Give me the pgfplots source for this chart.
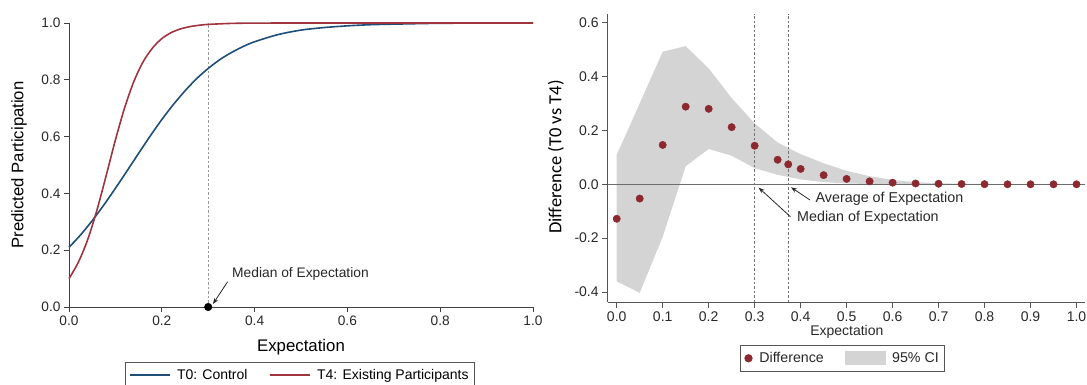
\documentclass[border=0pt]{standalone}
\usepackage{fontspec}
\setmainfont{Liberation Sans}
\newfontfamily\carlito{Carlito}
\usepackage{pgfplots}
\pgfplotsset{compat=1.18}
\usetikzlibrary{arrows.meta}
\definecolor{stblue}{RGB}{31,78,121}
\definecolor{stred}{RGB}{158,52,62}
\definecolor{dotred}{RGB}{140,40,48}
\definecolor{bandgray}{RGB}{212,212,212}
\definecolor{axgray}{RGB}{85,85,85}
\definecolor{txtgray}{RGB}{40,40,40}

\begin{document}
\begin{tikzpicture}
\useasboundingbox (0pt,0pt) rectangle (1087pt,-385pt);
% ---------------- left panel ----------------
\begin{axis}[
  at={(69pt,-307pt)}, anchor=south west,
  scale only axis, width=464pt, height=284pt,
  xmin=0, xmax=1, ymin=0, ymax=1, clip=false,
  axis lines*=left, axis line style={-, black!75, line width=0.9pt},
  tick align=outside, major tick length=5pt,
  tick style={black!75, line width=0.9pt},
  xtick={0,0.2,0.4,0.6,0.8,1}, ytick={0,0.2,0.4,0.6,0.8,1},
  xticklabel={\pgfmathprintnumber[fixed,fixed zerofill,precision=1,assume math mode=true]{\tick}},
  yticklabel={\pgfmathprintnumber[fixed,fixed zerofill,precision=1,assume math mode=true]{\tick}},
  ticklabel style={font=\fontsize{13.7}{15}\selectfont, text=txtgray},
  xlabel={Expectation},
  xlabel style={at={(axis description cs:0.5,-0.1408)}, anchor=center, font=\fontsize{16.8}{18}\selectfont},
  ylabel={Predicted Participation},
  ylabel style={at={(axis description cs:-0.1078,0.5)}, anchor=center, font=\fontsize{16.7}{18}\selectfont},
  legend columns=2,
  legend style={at={(axis description cs:0.1207,-0.1937)}, anchor=north west,
    draw=axgray, line width=0.8pt, inner xsep=4pt, inner ysep=5pt,
    font=\fontsize{14}{16}\selectfont, nodes={inner sep=2pt},
    /tikz/every odd column/.append style={column sep=4pt},
    /tikz/every even column/.append style={column sep=20pt}},
  legend image code/.code={\draw[#1] (0pt,0pt) -- (40pt,0pt);},
]
\addplot[forget plot, gray!80, line width=0.9pt, dash pattern=on 2.5pt off 2pt] coordinates {(0.3,0)(0.3,1)};
\addplot[stblue, line width=1.6pt, smooth] coordinates {
(0,0.210)(0.025,0.254)(0.05,0.304)(0.075,0.359)(0.1,0.418)(0.125,0.479)(0.15,0.541)
(0.175,0.602)(0.2,0.660)(0.225,0.713)(0.25,0.761)(0.275,0.804)(0.3,0.840)(0.325,0.871)
(0.35,0.896)(0.375,0.917)(0.4,0.934)(0.45,0.959)(0.5,0.975)(0.55,0.984)(0.6,0.990)
(0.65,0.994)(0.7,0.996)(0.8,0.999)(0.9,0.9995)(1.0,0.9998)};
\addlegendentry{T0: Control}
\addplot[stred, line width=1.6pt, smooth] coordinates {
(0,0.100)(0.02,0.157)(0.04,0.236)(0.06,0.340)(0.08,0.462)(0.1,0.588)(0.12,0.702)
(0.14,0.795)(0.16,0.864)(0.18,0.912)(0.2,0.945)(0.22,0.966)(0.24,0.979)(0.26,0.987)
(0.28,0.992)(0.3,0.995)(0.35,0.9986)(0.4,0.9996)(0.5,1.0)(0.7,1.0)(1.0,1.0)};
\addlegendentry{T4: Existing Participants}
\addplot[forget plot, only marks, mark=*, mark size=3.8pt, black] coordinates {(0.3,0)};
\end{axis}
% ---------------- right panel ----------------
\begin{axis}[
  at={(607.7pt,-302.3pt)}, anchor=south west,
  scale only axis, width=477.3pt, height=288.3pt,
  xmin=-0.0196, xmax=1.0185, ymin=-0.438, ymax=0.632,
  axis lines*=left, axis line style={-, axgray, line width=1pt},
  tick align=outside, major tick length=5.5pt,
  tick style={axgray, line width=1pt},
  xtick={0,0.1,0.2,0.3,0.4,0.5,0.6,0.7,0.8,0.9,1},
  ytick={-0.4,-0.2,0,0.2,0.4,0.6},
  xticklabel={\pgfmathprintnumber[fixed,fixed zerofill,precision=1,assume math mode=true]{\tick}},
  yticklabel={\pgfmathprintnumber[fixed,fixed zerofill,precision=1,assume math mode=true]{\tick}},
  ticklabel style={font=\fontsize{14}{15}\selectfont, text=txtgray},
  xlabel={Expectation},
  xlabel style={at={(axis description cs:0.501,-0.103)}, anchor=center, font=\fontsize{14}{16}\selectfont, text=txtgray},
  ylabel={Difference (T0 vs T4)},
  ylabel style={at={(axis description cs:-0.1083,0.504)}, anchor=center, font=\carlito\fontsize{18.5}{20}\selectfont},
  legend columns=2,
  legend style={at={(axis description cs:0.2782,-0.1481)}, anchor=north west,
    draw=axgray, line width=0.8pt, inner xsep=3.5pt, inner ysep=5pt,
    font=\fontsize{14.2}{16}\selectfont, text=txtgray, nodes={inner sep=2pt},
    /tikz/every odd column/.append style={column sep=4.8pt},
    /tikz/every even column/.append style={column sep=18.7pt}},
]
\addplot[forget plot, fill=bandgray, draw=none] coordinates {
(0,0.109)(0.05,0.30)(0.1,0.492)(0.15,0.513)(0.2,0.43)(0.25,0.32)(0.3,0.226)(0.35,0.155)
(0.4,0.112)(0.45,0.078)(0.5,0.05)(0.55,0.03)(0.6,0.016)(0.65,0.008)(0.7,0.004)(0.75,0.002)
(0.8,0.001)(1,0)
(1,0)(0.6,0)(0.55,0.001)(0.5,0.003)(0.45,0.008)(0.4,0.018)(0.35,0.035)(0.3,0.060)(0.25,0.106)
(0.2,0.131)(0.15,0.067)(0.1,-0.195)(0.05,-0.403)(0,-0.36)} -- cycle;
\addplot[forget plot, gray!85!black, line width=0.9pt] coordinates {(-0.0196,0)(1.0185,0)};
\addplot[forget plot, gray!90!black, line width=0.9pt, dash pattern=on 2.5pt off 2pt] coordinates {(0.3,-0.438)(0.3,0.632)};
\addplot[forget plot, gray!90!black, line width=0.9pt, dash pattern=on 2.5pt off 2pt] coordinates {(0.373,-0.438)(0.373,0.632)};
\addplot[only marks, mark=*, mark size=3.7pt, color=dotred, mark options={draw=dotred, fill=dotred},
  legend image code/.code={\fill[dotred] (0pt,0pt) circle (3.7pt);}] coordinates {
(0,-0.128)(0.05,-0.053)(0.1,0.146)(0.15,0.288)(0.2,0.280)(0.25,0.212)(0.3,0.143)
(0.35,0.091)(0.373,0.074)(0.4,0.057)(0.45,0.034)(0.5,0.020)(0.55,0.011)(0.6,0.006)
(0.65,0.003)(0.7,0.002)(0.75,0.001)(0.8,0.0005)(0.85,0)(0.9,0)(0.95,0)(1.0,0)};
\addlegendentry{Difference}
\addlegendimage{legend image code/.code={\fill[bandgray] (0pt,-6.6pt) rectangle (40pt,6.6pt);}}
\addlegendentry{95\% CI}
\end{axis}
% ---------------- annotations ----------------
\draw[-{Stealth[length=6pt,width=4.5pt]}, line width=0.8pt, black!85] (227.6pt,-281.7pt) -- (213pt,-304pt);
\node[anchor=west, inner sep=0pt, font=\fontsize{13.8}{15}\selectfont, text=txtgray] at (232pt,-274pt) {Median of Expectation};
\draw[-{Stealth[length=6pt,width=4.5pt]}, line width=0.8pt, txtgray] (810pt,-200pt) -- (791pt,-187.3pt);
\node[anchor=west, inner sep=0pt, font=\fontsize{14.3}{16}\selectfont, text=txtgray] at (815.5pt,-199pt) {Average of Expectation};
\draw[-{Stealth[length=6pt,width=4.5pt]}, line width=0.8pt, txtgray] (790.4pt,-216.7pt) -- (758.7pt,-187.7pt);
\node[anchor=west, inner sep=0pt, font=\fontsize{14.3}{16}\selectfont, text=txtgray] at (797pt,-217.7pt) {Median of Expectation};
\end{tikzpicture}
\end{document}
